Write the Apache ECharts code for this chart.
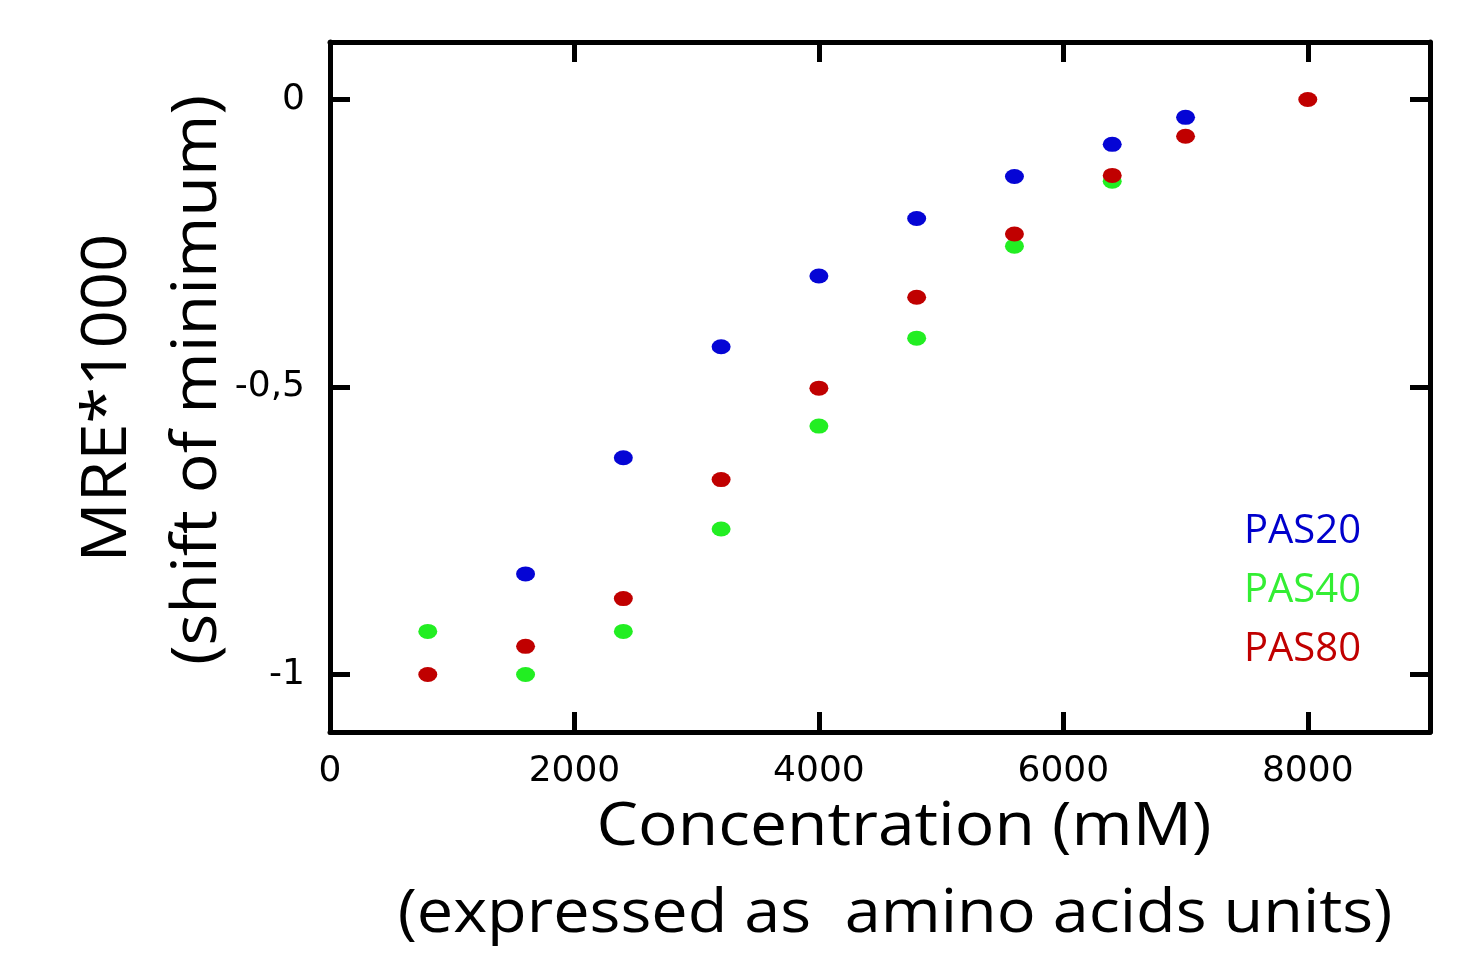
<!DOCTYPE html>
<html>
<head>
<meta charset="utf-8">
<script src="https://cdn.jsdelivr.net/npm/echarts@6/dist/echarts.min.js"></script>
<style>
  html, body { margin: 0; padding: 0; background: #fff; }
  #chart { width: 1470px; height: 956px; }
</style>
</head>
<body>
<div id="chart"></div>
<script>
// values
var concPAS20 = [1600, 2400, 3200, 4000, 4800, 5600, 6400, 7000];
var mrePAS20 = [-0.825, -0.623, -0.43, -0.307, -0.207, -0.134, -0.078, -0.031];
var concPAS40 = [800, 1600, 2400, 3200, 4000, 4800, 5600, 6400];
var mrePAS40 = [-0.925, -1.0, -0.925, -0.747, -0.568, -0.415, -0.255, -0.142];
var concPAS80 = [800, 1600, 2400, 3200, 4000, 4800, 5600, 6400, 7000, 8000];
var mrePAS80 = [-1.0, -0.951, -0.868, -0.661, -0.502, -0.344, -0.234, -0.132, -0.064, 0];

var xLabels = [0, 2000, 4000, 6000, 8000];
var xTicks = [2000, 4000, 6000, 8000];
var yLabels = [-1, -0.5, 0];

var seriesNames = ['PAS20', 'PAS40', 'PAS80'];
var seriesColors = ['#0505d5', '#22ee22', '#c00000'];
var legendColors = ['#0000cc', '#33ee33', '#c00000'];

function pairs(xs, ys) {
    return xs.map(function (x, i) { return [x, ys[i]]; });
}

var tickFont = { fontFamily: 'DejaVu Sans', fontSize: 36, color: '#000' };
var titleFont = 'Open Sans';

function frameAxis(pos, isX, showLabel) {
    var ax = {
        type: 'value',
        position: pos,
        min: isX ? 0 : -1.1,
        max: isX ? 9000 : 0.1,
        axisLine: { show: true, onZero: false, lineStyle: { color: '#000', width: 5 } },
        axisTick: {
            show: true, inside: true, length: 20,
            lineStyle: { color: '#000', width: 5 },
            customValues: isX ? xTicks : yLabels
        },
        splitLine: { show: false },
        axisLabel: { show: false }
    };
    if (showLabel) {
        ax.axisLabel = Object.assign({
            show: true,
            margin: isX ? 22 : 25,
            customValues: isX ? xLabels : yLabels,
            formatter: function (v) { return String(v).replace('.', ','); }
        }, tickFont);
    }
    return ax;
}

var chart = echarts.init(document.getElementById('chart'));
var option = {
    backgroundColor: '#fff',
    animation: false,
    grid: { left: 330, top: 42, right: 40, bottom: 224 },
    xAxis: [frameAxis('bottom', true, true), frameAxis('top', true, false)],
    yAxis: [frameAxis('left', false, true), frameAxis('right', false, false)],
    legend: {
        orient: 'vertical',
        right: 104,
        top: 507,
        icon: 'none',
        itemWidth: 0,
        itemHeight: 0,
        itemGap: 19,
        data: seriesNames.map(function (n, i) {
            return { name: n, textStyle: { color: legendColors[i] } };
        }),
        textStyle: { fontFamily: titleFont, fontSize: 40 }
    },
    series: [
        { name: seriesNames[0], data: pairs(concPAS20, mrePAS20) },
        { name: seriesNames[1], data: pairs(concPAS40, mrePAS40) },
        { name: seriesNames[2], data: pairs(concPAS80, mrePAS80) }
    ].map(function (s, i) {
        return Object.assign({
            type: 'scatter',
            symbol: 'circle',
            symbolSize: [19, 15],
            itemStyle: { color: seriesColors[i], opacity: 1 }
        }, s);
    }),
    graphic: [
        {
            type: 'text', x: 108, y: 398, rotation: Math.PI / 2, scaleX: 1.08,
            style: { text: 'MRE*1000', fontFamily: titleFont, fontSize: 62, fill: '#000', align: 'center', verticalAlign: 'middle' }
        },
        {
            type: 'text', x: 198, y: 380, rotation: Math.PI / 2, scaleX: 1.07,
            style: { text: '(shift of minimum)', fontFamily: titleFont, fontSize: 62, fill: '#000', align: 'center', verticalAlign: 'middle' }
        },
        {
            type: 'text', x: 904, y: 828, scaleX: 1.1,
            style: { text: 'Concentration (mM)', fontFamily: titleFont, fontSize: 60, fill: '#000', align: 'center', verticalAlign: 'middle' }
        },
        {
            type: 'text', x: 895, y: 915, scaleX: 1.08,
            style: { text: '(expressed as  amino acids units)', fontFamily: titleFont, fontSize: 60, fill: '#000', align: 'center', verticalAlign: 'middle' }
        }
    ]
};
chart.setOption(option);
</script>
</body>
</html>
